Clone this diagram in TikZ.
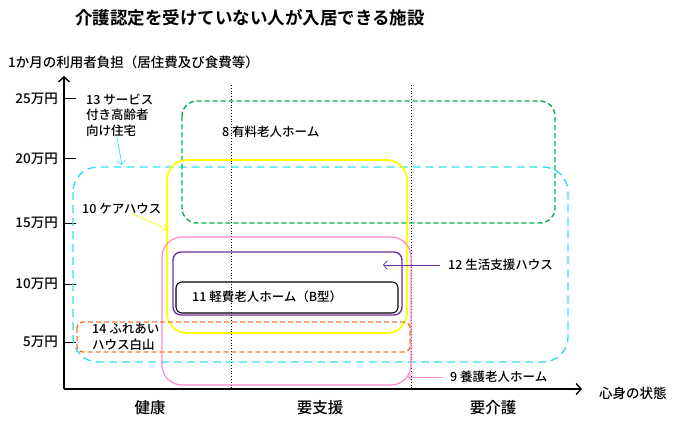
\documentclass[tikz,border=0pt]{standalone}
\usepackage{fontspec}
\setmainfont{Noto Sans CJK JP Medium}[BoldFont={Noto Sans CJK JP Bold}]
\usepackage{xcolor}
\usetikzlibrary{arrows.meta}
\definecolor{kgreen}{HTML}{00B050}
\definecolor{kcyan}{HTML}{33DDF5}
\definecolor{kyellow}{HTML}{FFFF00}
\definecolor{kpink}{HTML}{FF88CC}
\definecolor{kpurple}{HTML}{7030A0}
\definecolor{korange}{HTML}{ED7D31}
\begin{document}
\begin{tikzpicture}[x=1pt,y=-1pt,
	lbl/.style={anchor=west,inner sep=0pt,align=left,font=\fontsize{12.5}{15.5}\selectfont},
	axlbl/.style={inner sep=0pt,font=\fontsize{13.5}{16}\selectfont},
	catlbl/.style={inner sep=0pt,font=\fontsize{15.5}{18}\selectfont},
	facility/.style={line width=1.4pt,rounded corners=#1},
	pointer/.style={-{Straight Barb[length=4pt,width=9pt]},line width=0.7pt}]
	\useasboundingbox (0,0) rectangle (680,425);
	
	\node[anchor=west,inner sep=0pt,font=\fontsize{17.5}{20}\selectfont\bfseries] (title) at (75,18) {介護認定を受けていない人が入居できる施設};
	\node[axlbl,anchor=west] (ylab) at (8,62) {1か月の利用者負担（居住費及び食費等）};
	\node[axlbl,anchor=west] (xlab) at (599,393) {心身の状態};
	
	\coordinate (origin) at (64,389);
	\coordinate (ytop) at (64,76);
	\coordinate (xend) at (582,389);
	\draw[line width=1.4pt,-{Straight Barb[length=5pt,width=11pt]}] (origin) -- (ytop);
	\draw[line width=1.4pt,-{Straight Barb[length=5pt,width=11pt]}] (origin) -- (xend);
	\foreach \v/\y in {25/99,20/159,15/223,10/284,5/342}
	{\draw[line width=1pt] (64,\y) -- (76,\y);
		\node[axlbl,anchor=east] (tick\v) at (58,\y) {\v 万円};}
	
	\foreach \x/\name in {231/a,411/b}
	\draw[dotted,line width=0.8pt] (\x,85) -- (\x,389);
	\node[catlbl] (kenko) at (150,408) {健康};
	\node[catlbl] (shien) at (320,408) {要支援};
	\node[catlbl] (kaigo) at (493,408) {要介護};
	
	\draw[facility=25pt,kcyan,dash pattern=on 8pt off 5pt] (73,167) rectangle (568,362);
	\draw[facility=15pt,kgreen,dash pattern=on 5pt off 3pt] (182,101) rectangle (555,223);
	\draw[facility=20pt,kyellow,line width=1.7pt] (167,160) rectangle (407,333);
	\draw[facility=20pt,kpink,line width=1.2pt] (162,237) rectangle (411,385);
	\draw[facility=8pt,kpurple] (173,252) rectangle (402,315);
	\draw[facility=6pt,black,line width=1.1pt] (176,282) rectangle (398,313);
	\draw[facility=6pt,korange,dash pattern=on 5pt off 3pt] (77,322) rectangle (410,352);
	
	\node[lbl] (l13) at (86,115) {13 サービス\\付き高齢者\\向け住宅};
	\node[lbl] (l8) at (222,132) {8 有料老人ホーム};
	\node[lbl] (l10) at (82,209) {10 ケアハウス};
	\node[lbl] (l12) at (448,265) {12 生活支援ハウス};
	\node[lbl] (l11) at (192,297) {11 軽費老人ホーム（B型）};
	\node[lbl] (l14) at (92,337) {14 ふれあい\\ハウス白山};
	\node[lbl] (l9) at (450,377) {9 養護老人ホーム};
	
	\coordinate (t13) at (122,165);
	\coordinate (t10) at (167,229);
	\coordinate (t12) at (383,265);
	\coordinate (t9) at (408,377);
	\draw[pointer,kcyan] ([xshift=-3pt]l13.south) -- (t13);
	\draw[pointer,kyellow] ([xshift=10pt,yshift=1pt]l10.south) -- (t10);
	\draw[pointer,kpurple,shorten <=8pt] (l12.west) -- (t12);
	\draw[pointer,kpink,shorten <=7pt] (l9.west) -- (t9);
\end{tikzpicture}
\end{document}
